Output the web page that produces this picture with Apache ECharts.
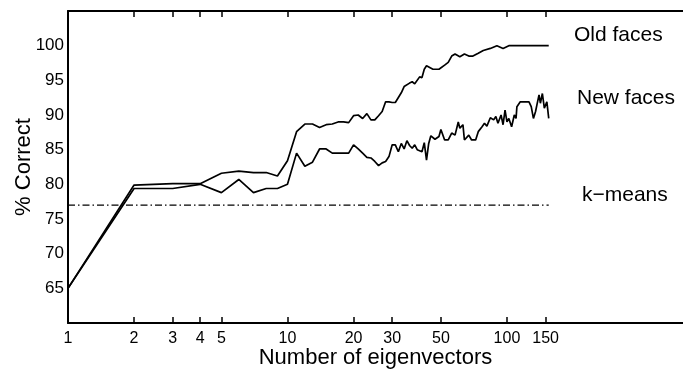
<!DOCTYPE html>
<html>
<head>
<meta charset="utf-8">
<script src="https://cdn.jsdelivr.net/npm/echarts@6/dist/echarts.min.js"></script>
<style>
html, body { margin: 0; padding: 0; background: #fff; }
#main { width: 683px; height: 370px; }
</style>
</head>
<body>
<div id="main"></div>
<script>
var tickVals = [1, 2, 3, 4, 5, 10, 20, 30, 50, 100, 150];

var oldN = [1, 2, 3, 4, 5, 6, 7, 8, 9, 10, 11, 12, 13, 14, 15, 16, 17, 18, 19, 20,
  21, 22, 23, 24, 25, 26, 27, 28, 29, 30, 31, 33, 34, 36, 37, 38, 40, 41, 42, 43,
  46, 49, 52, 54, 56, 58, 61, 64, 67, 70, 74, 78, 84, 90, 96, 102, 155];
var oldPct = [65, 79.9, 80.1, 80.1, 81.6, 81.9, 81.7, 81.7, 81.2, 83.4, 87.6, 88.7, 88.7, 88.2, 88.6, 88.7, 89.0, 89.0, 88.9, 89.9,
  90.0, 89.5, 90.2, 89.3, 89.3, 89.9, 90.5, 91.9, 91.9, 91.8, 91.8, 93.2, 94.1, 94.6, 94.8, 94.5, 95.5, 95.4, 96.6, 97.1,
  96.6, 96.6, 97.2, 97.6, 98.5, 98.8, 98.4, 98.8, 98.5, 98.5, 98.9, 99.3, 99.6, 100, 99.6, 100, 100];

var newN = [1, 2, 3, 4, 5, 6, 7, 8, 9, 10, 11, 12, 13, 14, 15, 16, 17, 18, 19, 20,
  21, 22, 23, 24, 25, 26, 27, 28, 29, 30, 31, 32, 33, 34, 35, 36, 37, 38, 39, 41,
  42, 43, 44, 45, 47, 49, 50, 52, 54, 56, 58, 60, 61, 63, 64, 67, 69, 72, 74, 77,
  79, 81, 84, 87, 89, 91, 94, 96, 98, 100, 102, 105, 108, 110, 111, 115, 126, 129, 132, 135,
  137, 140, 142, 145, 148, 152, 155];
var newPct = [65, 79.4, 79.4, 80.0, 78.8, 80.7, 78.8, 79.4, 79.4, 80.0, 84.5, 82.6, 83.2, 85.1, 85.1, 84.5, 84.5, 84.5, 84.5, 85.7,
  85.1, 84.5, 83.9, 83.8, 83.3, 82.7, 83.1, 83.3, 84.0, 85.7, 85.7, 84.7, 85.9, 85.1, 86.3, 85.6, 85.2, 85.7, 85.0, 84.7,
  86.0, 83.5, 85.9, 87.0, 86.5, 86.9, 87.9, 86.4, 86.4, 87.4, 87.1, 89.0, 88.1, 88.6, 86.4, 87.1, 86.4, 86.4, 87.6, 88.3,
  88.8, 88.4, 89.6, 89.3, 89.8, 88.8, 90.0, 88.6, 90.7, 89.0, 89.5, 88.3, 90.0, 89.5, 91.2, 91.9, 91.9, 91.2, 89.5, 90.5,
  91.5, 92.9, 91.7, 93.1, 91.0, 91.9, 89.5];

var kmeansN = [1, 155];
var kmeansPct = [77, 77];

var labels = [
  { text: 'Old faces', x: 574, y: 37 },
  { text: 'New faces', x: 577, y: 100 },
  { text: 'k\u2212means', x: 582, y: 197 }
];

function pairs(xs, ys) {
  return xs.map(function (x, i) { return [x, ys[i]]; });
}

var font = '"Liberation Sans", Arial, sans-serif';

var chart = echarts.init(document.getElementById('main'));

var xBase = {
  type: 'log',
  logBase: 10,
  min: 1,
  max: 634,
  splitLine: { show: false },
  axisLine: { show: true, lineStyle: { color: '#000', width: 2 } },
  axisTick: { show: true, inside: true, length: 6, customValues: tickVals, lineStyle: { color: '#000', width: 1.5 } },
  axisPointer: { show: false }
};

chart.setOption({
  animation: false,
  grid: {
    left: 68,
    right: 0,
    top: 11,
    bottom: 47,
    containLabel: false,
    outerBoundsMode: 'none'
  },
  xAxis: [
    Object.assign({}, xBase, {
      position: 'bottom',
      name: 'Number of eigenvectors',
      nameLocation: 'middle',
      nameGap: 24,
      nameMoveOverlap: false,
      nameTextStyle: { fontFamily: font, fontSize: 22, color: '#000' },
      axisLabel: {
        show: true, customValues: tickVals, margin: 8,
        fontFamily: font, fontSize: 16, color: '#000'
      }
    }),
    Object.assign({}, xBase, {
      position: 'top',
      axisLabel: { show: false }
    })
  ],
  yAxis: {
    type: 'value',
    min: 60,
    max: 105,
    interval: 5,
    name: '% Correct',
    nameLocation: 'middle',
    nameGap: 33,
    nameMoveOverlap: false,
    nameTextStyle: { fontFamily: font, fontSize: 22, color: '#000' },
    splitLine: { show: false },
    axisLine: { show: true, lineStyle: { color: '#000', width: 2 } },
    axisTick: { show: false },
    axisLabel: {
      showMinLabel: false,
      showMaxLabel: false,
      margin: 4,
      fontFamily: font, fontSize: 17, color: '#000'
    }
  },
  series: [
    {
      name: 'Old faces',
      type: 'line',
      data: pairs(oldN, oldPct),
      showSymbol: false,
      lineStyle: { color: '#000', width: 1.7 }
    },
    {
      name: 'New faces',
      type: 'line',
      data: pairs(newN, newPct),
      showSymbol: false,
      lineStyle: { color: '#000', width: 1.7 }
    },
    {
      name: 'k-means',
      type: 'line',
      data: pairs(kmeansN, kmeansPct),
      showSymbol: false,
      lineStyle: { color: '#000', width: 1.2, type: [7, 3, 1.5, 3] }
    }
  ],
  graphic: labels.map(function (l) {
    return {
      type: 'text',
      left: l.x,
      top: l.y - 12,
      style: { text: l.text, fontFamily: font, fontSize: 21, fill: '#000' }
    };
  })
});

window.addEventListener('resize', function () {
  chart.resize();
});
</script>
</body>
</html>
